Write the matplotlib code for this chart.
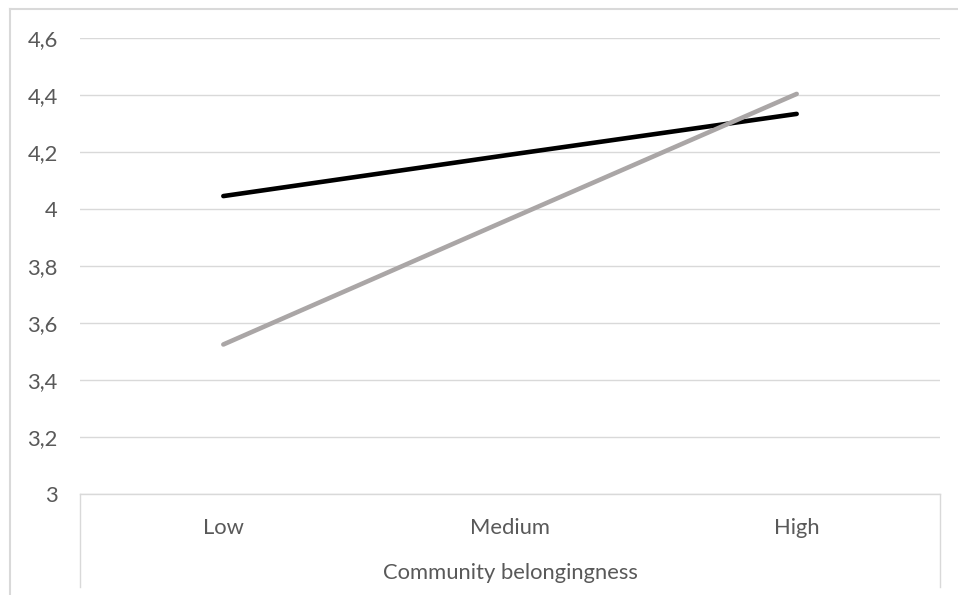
import matplotlib.pyplot as plt
from matplotlib.lines import Line2D
from matplotlib.ticker import FuncFormatter, MultipleLocator

categories = ["Low", "Medium", "High"]
series_black = [4.045, 4.19, 4.333]
series_gray = [3.525, 3.965, 4.403]

GRID = "#D9D9D9"
TEXT = "#595959"

plt.rcParams["font.family"] = ["Lato", "DejaVu Sans"]

W, H = 958, 595
fig = plt.figure(figsize=(W / 100, H / 100), dpi=100)
ax = fig.add_axes([80 / W, 1 - 494.3 / H, 860 / W, (494.3 - 37.7) / H])

x = range(len(categories))
ax.plot(x, series_black, color="black", lw=3.3, solid_capstyle="round")
ax.plot(x, series_gray, color="#AAA6A6", lw=3.3, solid_capstyle="round")

ax.set_xlim(-0.5, 2.5)
ax.set_ylim(3, 4.6)
ax.yaxis.set_major_locator(MultipleLocator(0.2))
ax.yaxis.set_major_formatter(FuncFormatter(lambda v, _: f"{v:g}".replace(".", ",")))
ax.grid(axis="y", color=GRID, lw=1)
ax.set_axisbelow(True)

ax.set_xticks(list(x))
ax.set_xticklabels(categories)
ax.tick_params(length=0, labelsize=15.8, labelcolor=TEXT)
ax.tick_params(axis="y", pad=16)
ax.tick_params(axis="x", pad=17)

for s in ["top", "right", "left"]:
    ax.spines[s].set_visible(False)
ax.spines["bottom"].set_color(GRID)
ax.spines["bottom"].set_linewidth(1)

ax.set_xlabel("Community belongingness", fontsize=15.8, color=TEXT, labelpad=18)

# category axis box side lines
depth = (587 - 494.3) / (494.3 - 37.7)
for xa in (0, 1):
    ax.add_line(Line2D([xa, xa], [0, -depth], transform=ax.transAxes,
                       color=GRID, lw=1, clip_on=False))

# chart frame
fig.add_artist(Line2D([9.5 / W, 9.5 / W], [0, 1 - 8.5 / H], color=GRID, lw=1.5))
fig.add_artist(Line2D([9.5 / W, 1], [1 - 8.5 / H, 1 - 8.5 / H], color=GRID, lw=1.5))

fig.savefig("out.png", dpi=100)
